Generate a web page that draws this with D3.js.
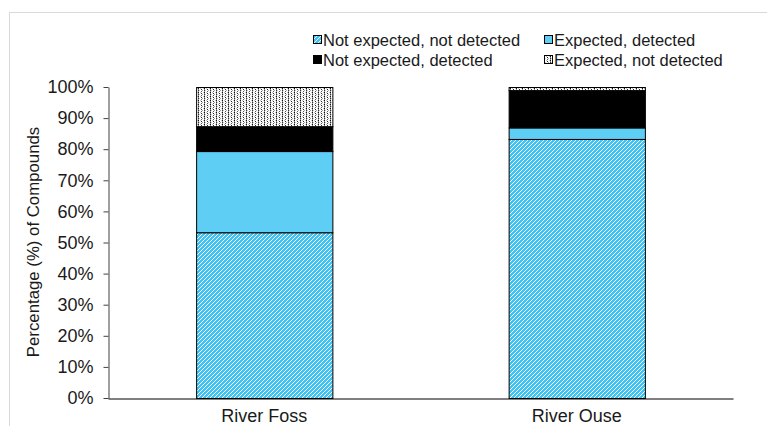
<!DOCTYPE html>
<html><head><meta charset="utf-8">
<script src="https://cdn.jsdelivr.net/npm/d3@7/dist/d3.min.js"></script>
<style>body{margin:0;background:#fff}svg{display:block;font-family:Arial,"Liberation Sans",sans-serif}</style>
</head><body><svg id="c" width="767" height="426"></svg>
<script>
const categories = ["River Foss", "River Ouse"];
const seriesNames = ["Not expected, not detected", "Expected, detected", "Not expected, detected", "Expected, not detected"];
const notExpectedNotDetected = [53.3, 83.3];
const expectedDetected = [26.1, 3.7];
const notExpectedDetected = [8.0, 12.0];
const expectedNotDetected = [12.6, 1.0];
const yTicks = [0, 10, 20, 30, 40, 50, 60, 70, 80, 90, 100];

const svg = d3.select("#c");
const defs = svg.append("defs");
const blue = "#5fcef5";
// hatch pattern
const ph = defs.append("pattern").attr("id","hatch").attr("patternUnits","userSpaceOnUse").attr("width",4).attr("height",4);
ph.append("rect").attr("width",4).attr("height",4).attr("fill","#3fc3f2");
ph.append("path").attr("d","M-1,1 l2,-2 M0,4 l4,-4 M3,5 l2,-2").attr("stroke","#fff").attr("stroke-width",1);
// dotted pattern
const pd = defs.append("pattern").attr("id","dots").attr("patternUnits","userSpaceOnUse").attr("width",6).attr("height",4);
pd.append("rect").attr("width",6).attr("height",4).attr("fill","#fff");
[[0,0,"#111"],[0,1,"#888"],[0,2,"#333"],[0,3,"#999"],[3,1,"#222"],[3,3,"#555"],[2,0,"#bbb"],[4,2,"#aaa"],[1,2,"#ccc"],[5,0,"#ccc"]]
  .forEach(p=>pd.append("rect").attr("x",p[0]).attr("y",p[1]).attr("width",1).attr("height",1).attr("fill",p[2]));

const fills = ["url(#hatch)", blue, "#000", "url(#dots)"];

// chart border
svg.append("rect").attr("x",9.5).attr("y",12.5).attr("width",900).attr("height",600).attr("fill","none").attr("stroke","#d9d9d9");

const y = d3.scaleLinear().domain([0,100]).range([398, 87]);
const x = d3.scaleBand().domain(categories).range([108, 733]).paddingInner(0.564).paddingOuter(0.282);

const values = [notExpectedNotDetected, expectedDetected, notExpectedDetected, expectedNotDetected];
const rows = categories.map((c,i)=>{const o={cat:c}; seriesNames.forEach((s,j)=>o[s]=values[j][i]); return o;});
const stack = d3.stack().keys(seriesNames)(rows);

stack.forEach((layer,j)=>{
  svg.append("g").selectAll("rect").data(layer).join("rect")
    .attr("x",d=>x(d.data.cat)+0.5)
    .attr("y",d=>y(d[1])+0.5)
    .attr("width",x.bandwidth())
    .attr("height",d=>y(d[0])-y(d[1]))
    .attr("fill",fills[j])
    .attr("stroke","#000").attr("stroke-width",1);
});

// y axis
const ya = svg.append("g").attr("transform","translate(108.5,0)")
  .call(d3.axisLeft(y).tickValues(yTicks).tickFormat(d=>d+"%").tickSize(5).tickSizeOuter(0).tickPadding(10));
ya.selectAll("text").attr("font-size",18).attr("fill","#1a1a1a").attr("font-family","Arial, 'Liberation Sans', sans-serif");
ya.selectAll("line,path").attr("stroke","#404040");

// x axis
const xa = svg.append("g").attr("transform","translate(0,398.5)")
  .call(d3.axisBottom(x).tickSize(0).tickSizeOuter(0).tickPadding(11));
xa.select("path").attr("stroke","#000");
xa.selectAll("text").attr("font-size",18).attr("fill","#1a1a1a").attr("font-family","Arial, 'Liberation Sans', sans-serif");

// y title
svg.append("text").attr("transform","translate(33,242) rotate(-90)").attr("text-anchor","middle").attr("dy","0.35em")
  .attr("font-size",16.8).attr("fill","#1a1a1a").text("Percentage (%) of Compounds");

// legend
const legPos = [[313,40],[544,40],[313,60],[544,60]];
seriesNames.forEach((s,j)=>{
  const g = svg.append("g").attr("transform",`translate(${legPos[j][0]},${legPos[j][1]})`);
  g.append("rect").attr("x",0.5).attr("y",-4.5).attr("width",8).attr("height",8).attr("fill",fills[j]).attr("stroke","#000");
  g.append("text").attr("x",10).attr("dy","0.35em").attr("font-size",16.5).attr("fill","#1a1a1a").text(s);
});
</script></body></html>
